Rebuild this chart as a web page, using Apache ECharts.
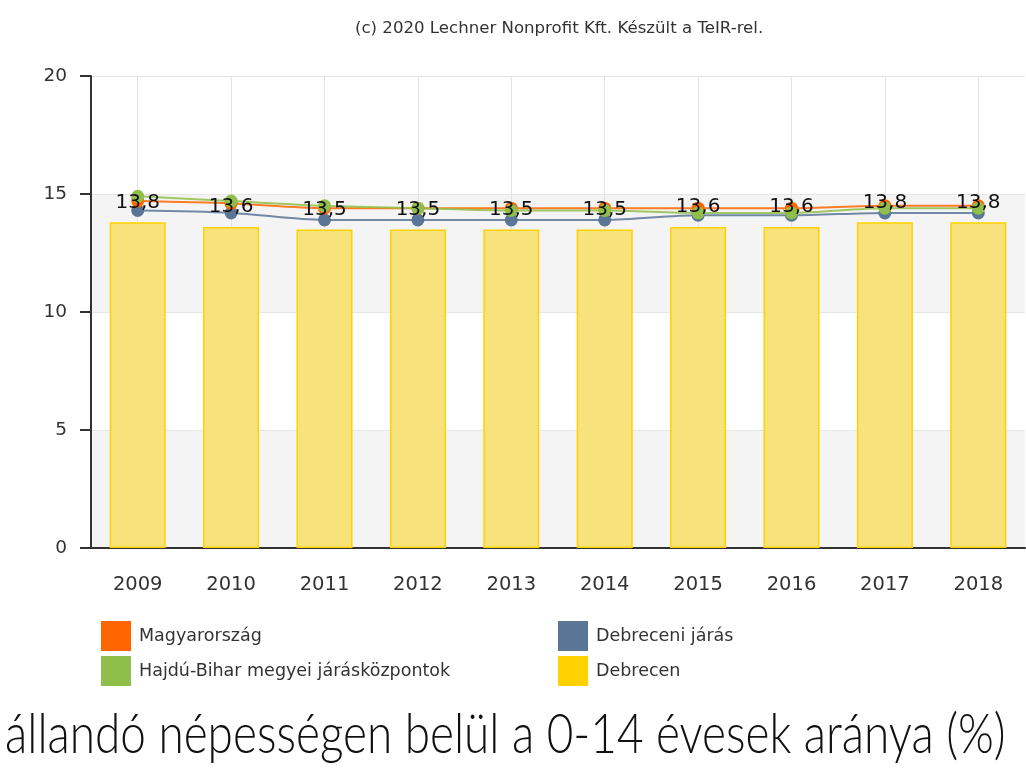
<!DOCTYPE html>
<html><head><meta charset="utf-8">
<script src="https://cdn.jsdelivr.net/npm/echarts@6/dist/echarts.min.js"></script>
<style>html,body{margin:0;padding:0;background:#fff}#c{width:1026px;height:774px}</style>
</head><body><div id="c"></div>
<script>
const years = ['2009','2010','2011','2012','2013','2014','2015','2016','2017','2018'];
const magyarorszag = [14.7, 14.6, 14.4, 14.4, 14.4, 14.4, 14.4, 14.4, 14.5, 14.5];
const hajduBihar = [14.9, 14.7, 14.5, 14.4, 14.3, 14.3, 14.2, 14.2, 14.4, 14.4];
const debreceniJaras = [14.3, 14.2, 13.9, 13.9, 13.9, 13.9, 14.1, 14.1, 14.2, 14.2];
const debrecen = [13.8, 13.6, 13.5, 13.5, 13.5, 13.5, 13.6, 13.6, 13.8, 13.8];
const yTicks = {min: 0, max: 20, interval: 5};
const copyrightText = '(c) 2020 Lechner Nonprofit Kft. Készült a TeIR-rel.';
const bottomTitle = 'állandó népességen belül a 0-14 évesek aránya (%)';

const font = 'DejaVu Sans';
function lineSeries(name, data, color) {
  return {
    name, type: 'line', data, smooth: 0.3, z: 3,
    symbol: 'circle', symbolSize: 13,
    itemStyle: {color},
    lineStyle: {color, width: 2, opacity: 0.85},
    emphasis: {disabled: true}
  };
}
const legendText = {fontFamily: font, fontSize: 17.5, color: '#333', padding: [0, 0, 0, 3]};
const chart = echarts.init(document.getElementById('c'), null, {renderer: 'canvas'});
chart.setOption({
  animation: false,
  textStyle: {fontFamily: font},
  title: [
    {text: copyrightText, left: 355, top: 20, padding: 0,
     textStyle: {fontFamily: font, fontSize: 16.6, fontWeight: 'normal', color: '#333'}}
  ],
  graphic: [
    {type: 'text', left: 5, top: 708, scaleX: 0.835, originX: 0,
     style: {text: bottomTitle, font: '300 55px Lato', fill: '#111'}}
  ],
  legend: [
    {left: 101, top: 621, padding: 0, orient: 'vertical', itemWidth: 30, itemHeight: 30, itemGap: 5, icon: 'rect',
     data: ['Magyarország', 'Hajdú-Bihar megyei járásközpontok'],
     textStyle: legendText, selectedMode: false},
    {left: 558, top: 621, padding: 0, orient: 'vertical', itemWidth: 30, itemHeight: 30, itemGap: 5, icon: 'rect',
     data: ['Debreceni járás', {name: 'Debrecen', itemStyle: {color: '#ffd200', borderWidth: 0}}],
     textStyle: legendText, selectedMode: false}
  ],
  grid: {left: 91, right: 1, top: 76, bottom: 226, containLabel: false},
  xAxis: {
    type: 'category', data: years,
    axisLine: {lineStyle: {color: '#333', width: 2}},
    axisTick: {alignWithLabel: true, length: 9, lineStyle: {color: '#333', width: 2}},
    axisLabel: {fontFamily: font, fontSize: 19.5, color: '#333', margin: 27},
    splitLine: {show: true, alignWithLabel: true, lineStyle: {color: '#e3e3e3', width: 1}}
  },
  yAxis: {
    type: 'value', min: yTicks.min, max: yTicks.max, interval: yTicks.interval,
    axisLine: {show: true, lineStyle: {color: '#333', width: 2}},
    axisTick: {show: true, length: 11, lineStyle: {color: '#333', width: 2}},
    axisLabel: {fontFamily: font, fontSize: 18.5, color: '#333', margin: 24},
    splitLine: {show: true, lineStyle: {color: '#e6e6e6', width: 1}},
    splitArea: {show: true, areaStyle: {color: ['#f4f4f4', '#ffffff']}}
  },
  series: [
    {
      name: 'Debrecen', type: 'bar', data: debrecen, barWidth: '60%', z: 5,
      itemStyle: {color: '#f7e27b', borderColor: '#ffd200', borderWidth: 1.5},
      label: {show: true, position: 'top', distance: 10, color: '#111', fontFamily: font, fontSize: 20,
              formatter: p => String(p.value).replace('.', ',')},
      emphasis: {disabled: true}
    },
    lineSeries('Debreceni járás', debreceniJaras, '#5b7596'),
    lineSeries('Magyarország', magyarorszag, '#ff6600'),
    lineSeries('Hajdú-Bihar megyei járásközpontok', hajduBihar, '#8fbf4a')
  ]
});
</script></body></html>
